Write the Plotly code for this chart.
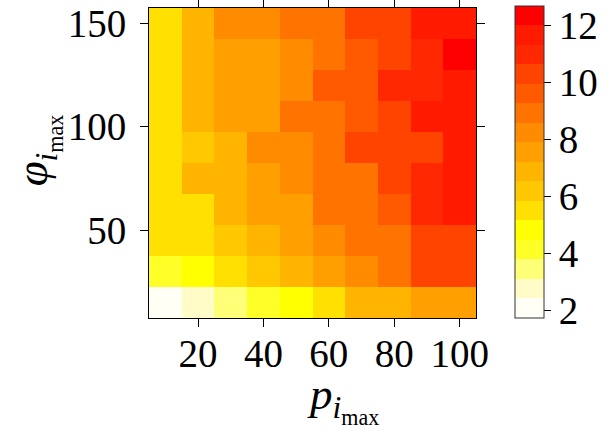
import plotly.graph_objects as go

# Grid coordinates
p_imax = [10, 20, 30, 40, 50, 60, 70, 80, 90, 100]
phi_imax = [15, 30, 45, 60, 75, 90, 105, 120, 135, 150]

# Values (rows: phi_imax from 15 to 150, columns: p_imax 10..100)
row_15 = [2.06, 2.75, 3.43, 4.12, 4.80, 5.49, 6.86, 6.86, 7.54, 7.54]
row_30 = [4.12, 4.80, 5.49, 6.17, 6.86, 7.54, 8.23, 8.91, 10.28, 10.28]
row_45 = [5.49, 5.49, 6.17, 6.86, 7.54, 8.23, 8.91, 8.91, 10.28, 10.28]
row_60 = [5.49, 5.49, 6.86, 7.54, 7.54, 8.91, 8.91, 9.60, 10.97, 11.65]
row_75 = [5.49, 6.86, 6.86, 7.54, 8.23, 8.91, 8.91, 10.28, 10.97, 11.65]
row_90 = [5.49, 6.17, 6.86, 8.23, 8.23, 8.91, 10.28, 10.28, 10.28, 11.65]
row_105 = [5.49, 6.86, 7.54, 7.54, 8.91, 8.91, 9.60, 10.28, 11.65, 11.65]
row_120 = [5.49, 6.86, 7.54, 7.54, 8.23, 9.60, 9.60, 10.97, 10.97, 11.65]
row_135 = [5.49, 6.86, 7.54, 7.54, 8.23, 8.91, 9.60, 10.28, 10.97, 12.34]
row_150 = [5.49, 6.86, 8.23, 8.23, 8.91, 8.91, 10.28, 10.28, 11.65, 11.65]

z_rows = [row_15, row_30, row_45, row_60, row_75, row_90, row_105, row_120, row_135, row_150]

z_min = 1.72
z_max = 12.68

band_colors = [
    "#FFFFF5", "#FFFCC8", "#FFFF78", "#FFFF28", "#FFFF00", "#FFE000",
    "#FFC800", "#FFB400", "#FFA000", "#FF8C00", "#FF7300", "#FF5A00",
    "#FF4400", "#FF2800", "#FF1A00", "#FF0000",
]

x_ticks = [20, 40, 60, 80, 100]
y_ticks = [50, 100, 150]
cbar_ticks = [2, 4, 6, 8, 10, 12]

n = len(band_colors)
colorscale = []
for i, c in enumerate(band_colors):
    colorscale.append([i / n, c])
    colorscale.append([(i + 1) / n, c])

FONT = "Liberation Serif"
FS = 39
LFS = 45

fig = go.Figure(
    go.Heatmap(
        x=p_imax,
        y=phi_imax,
        z=z_rows,
        zmin=z_min,
        zmax=z_max,
        colorscale=colorscale,
        xgap=0,
        ygap=0,
        colorbar=dict(
            x=(515 - 148.7) / 327.0,
            xanchor="left",
            y=1 + 2 / 310.0,
            yanchor="top",
            len=312 / 310.0,
            lenmode="fraction",
            thickness=29,
            thicknessmode="pixels",
            outlinecolor="#333333",
            outlinewidth=1,
            tickvals=cbar_ticks,
            ticks="outside",
            ticklen=7,
            tickcolor="black",
            tickfont=dict(family=FONT, size=FS, color="black"),
            xpad=0,
            ypad=0,
        ),
        hoverinfo="skip",
    )
)

axis_common = dict(
    showline=True,
    linecolor="black",
    linewidth=1,
    mirror="allticks",
    ticks="outside",
    ticklen=8,
    tickcolor="black",
    showgrid=False,
    zeroline=False,
    automargin=False,
    tickfont=dict(family=FONT, size=FS, color="black"),
)

fig.update_xaxes(range=[5, 105], tickvals=x_ticks, ticklabelstandoff=-7, **axis_common)
fig.update_yaxes(range=[7.5, 157.5], tickvals=y_ticks, ticklabelstandoff=6, **axis_common)

fig.update_layout(
    width=613,
    height=431,
    margin=dict(l=148.7, r=613 - 475.7, t=8, b=431 - 318, autoexpand=False),
    paper_bgcolor="white",
    plot_bgcolor="white",
    showlegend=False,
    annotations=[
        dict(
            text="<i>p</i><sub><i>i</i><sub>max</sub></sub>",
            xref="paper", yref="paper",
            x=(343 - 148.7) / 327.0, y=-(399 - 318) / 310.0,
            xanchor="center", yanchor="middle",
            showarrow=False,
            font=dict(family=FONT, size=LFS, color="black"),
        ),
        dict(
            text="<i>\u03c6</i><sub><i>i</i><sub>max</sub></sub>",
            xref="paper", yref="paper",
            x=-(148.7 - 38) / 327.0, y=(318 - 150) / 310.0,
            xanchor="center", yanchor="middle",
            textangle=-90,
            showarrow=False,
            font=dict(family=FONT, size=LFS, color="black"),
        ),
    ],
)

fig.write_html(
    "out.html",
    config={"displayModeBar": False},
    post_script="document.body.style.margin='0';document.body.style.padding='0';",
)
